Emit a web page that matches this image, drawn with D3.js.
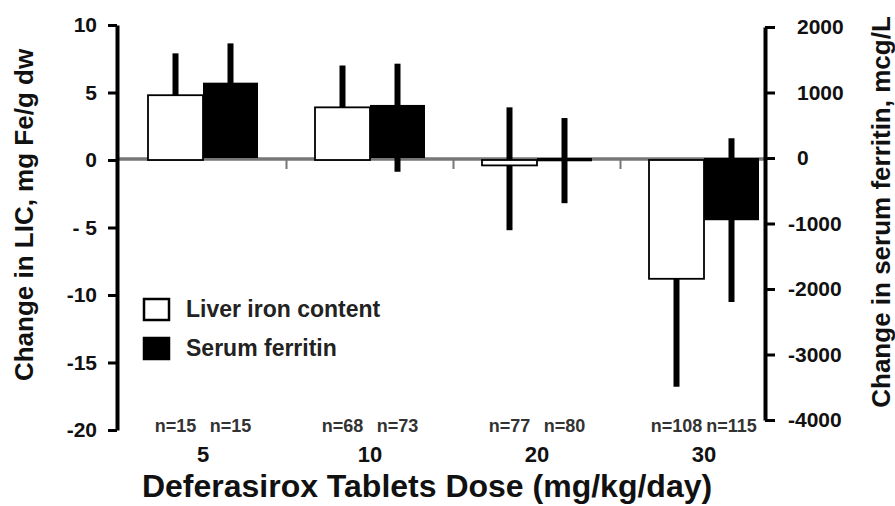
<!DOCTYPE html>
<html lang="en">
<head>
<meta charset="utf-8">
<title>Deferasirox tablets dose</title>
<script src="https://cdn.jsdelivr.net/npm/d3@7"></script>
<style>
  body { margin: 0; background: #fff; }
  svg { display: block; font-family: "Liberation Sans", Arial, sans-serif; font-weight: bold; }
</style>
</head>
<body>
<svg id="chart"></svg>
<script>
// values
const doses = ["5", "10", "20", "30"];
const liverMean = [4.8, 3.9, -0.4, -8.8];
const liverHigh = [7.9, 7.0, 3.9, -0.9];
const liverLow = [1.7, 0.8, -5.2, -16.8];
const serumMean = [1150, 810, -50, -950];
const serumHigh = [1750, 1440, 610, 300];
const serumLow = [550, -210, -690, -2200];
const liverN = [15, 68, 77, 108];
const serumN = [15, 73, 80, 115];
const leftTicks = [10, 5, 0, -5, -10, -15, -20];
const leftTickLabels = ["10", "5", "0", "- 5", "-10", "-15", "-20"];
const rightTicks = [2000, 1000, 0, -1000, -2000, -3000, -4000];
const rightTickLabels = ["2000", "1000", "0", "-1000", "-2000", "-3000", "-4000"];

const width = 895, height = 506;

const svg = d3.select("#chart")
    .attr("width", width)
    .attr("height", height);

svg.append("rect").attr("width", width).attr("height", height).attr("fill", "#fff");

const yL = d3.scaleLinear().domain([-20, 10]).range([430, 25]);
const yR = d3.scaleLinear().domain([-4000, 2000]).range([420, 27]);
const x = d3.scalePoint().domain(doses).range([203, 704]);
const xs = d3.scaleBand().domain(["liver", "serum"]).range([-55, 55]);

const rows = [];
doses.forEach((d, i) => {
    rows.push({dose: d, series: "liver", mean: liverMean[i], lo: liverLow[i], hi: liverHigh[i], n: liverN[i], y: yL});
    rows.push({dose: d, series: "serum", mean: serumMean[i], lo: serumLow[i], hi: serumHigh[i], n: serumN[i], y: yR});
});
const cx = d => x(d.dose) + xs(d.series) + xs.bandwidth() / 2;

// zero line + small separators between dose groups
const zeroY = (yL(0) + yR(0)) / 2;
svg.append("line")
    .attr("x1", 117).attr("x2", 765)
    .attr("y1", zeroY).attr("y2", zeroY)
    .attr("stroke", "#777").attr("stroke-width", 3.5);

svg.selectAll(".sep")
    .data(d3.pairs(doses))
    .enter().append("line")
    .attr("class", "sep")
    .attr("x1", p => (x(p[0]) + x(p[1])) / 2)
    .attr("x2", p => (x(p[0]) + x(p[1])) / 2)
    .attr("y1", zeroY).attr("y2", zeroY + 10)
    .attr("stroke", "#777").attr("stroke-width", 2);

// error bars (drawn under the bars)
svg.selectAll(".err")
    .data(rows)
    .enter().append("line")
    .attr("class", "err")
    .attr("x1", cx).attr("x2", cx)
    .attr("y1", d => d.y(d.hi))
    .attr("y2", d => d.y(d.lo))
    .attr("stroke", "#000").attr("stroke-width", 6);

// bars
svg.selectAll(".bar")
    .data(rows)
    .enter().append("rect")
    .attr("class", "bar")
    .attr("x", d => x(d.dose) + xs(d.series))
    .attr("width", xs.bandwidth())
    .attr("y", d => Math.min(d.y(d.mean), d.y(0)))
    .attr("height", d => Math.abs(d.y(d.mean) - d.y(0)))
    .attr("fill", d => d.series === "liver" ? "#fff" : "#000")
    .attr("stroke", "#000")
    .attr("stroke-width", d => d.series === "liver" ? 1.8 : 0);

// n labels
svg.selectAll(".nlab")
    .data(rows)
    .enter().append("text")
    .attr("class", "nlab")
    .attr("x", cx)
    .attr("y", 432)
    .attr("text-anchor", "middle")
    .style("font-size", "18px")
    .attr("fill", "#333")
    .text(d => "n=" + d.n);

// dose labels
svg.selectAll(".dose")
    .data(doses)
    .enter().append("text")
    .attr("class", "dose")
    .attr("x", d => x(d))
    .attr("y", 462)
    .attr("text-anchor", "middle")
    .style("font-size", "22px")
    .attr("fill", "#111")
    .text(d => d);

// left axis
const gL = svg.append("g")
    .attr("transform", "translate(117,0)")
    .call(d3.axisLeft(yL).tickValues(leftTicks).tickSize(9).tickSizeOuter(0).tickPadding(11)
        .tickFormat((d, i) => leftTickLabels[i]));

// right axis
const gR = svg.append("g")
    .attr("transform", "translate(765,0)")
    .call(d3.axisRight(yR).tickValues(rightTicks).tickSize(10).tickSizeOuter(0).tickPadding(22)
        .tickFormat((d, i) => rightTickLabels[i]));
gR.selectAll(".tick text").attr("dx", d => d < 0 ? -9 : 0);

[gL, gR].forEach(g => {
    g.select(".domain").attr("stroke", "#000").attr("stroke-width", 4);
    g.selectAll(".tick line").attr("stroke", "#000").attr("stroke-width", 3);
    g.selectAll(".tick text")
        .attr("fill", "#111")
        .style("font-size", "21px")
        .style("font-family", "'Liberation Sans', Arial, sans-serif")
        .style("font-weight", "bold");
});

// axis titles
svg.append("text")
    .attr("transform", "translate(33,215) rotate(-90)")
    .attr("text-anchor", "middle")
    .style("font-size", "26px")
    .attr("fill", "#111")
    .text("Change in LIC, mg Fe/g dw");

svg.append("text")
    .attr("transform", "translate(890,212) rotate(-90)")
    .attr("text-anchor", "middle")
    .style("font-size", "26px")
    .attr("fill", "#111")
    .text("Change in serum ferritin, mcg/L");

svg.append("text")
    .attr("x", 427)
    .attr("y", 497)
    .attr("text-anchor", "middle")
    .style("font-size", "32px")
    .attr("fill", "#111")
    .text("Deferasirox Tablets Dose (mg/kg/day)");

// legend
const legend = [
    {label: "Liver iron content", fill: "#fff", y: 298},
    {label: "Serum ferritin", fill: "#000", y: 337}
];
const lg = svg.selectAll(".legend")
    .data(legend)
    .enter().append("g")
    .attr("class", "legend")
    .attr("transform", d => "translate(143," + d.y + ")");
lg.append("rect")
    .attr("x", 1).attr("y", 1)
    .attr("width", 25).attr("height", 21)
    .attr("fill", d => d.fill)
    .attr("stroke", "#000").attr("stroke-width", 2.5);
lg.append("text")
    .attr("x", 43).attr("y", 19)
    .style("font-size", "23px")
    .attr("fill", "#222")
    .text(d => d.label);
</script>
</body>
</html>
